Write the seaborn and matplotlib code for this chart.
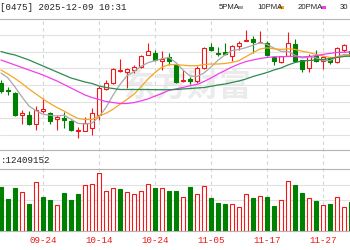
import numpy as np
import pandas as pd
import matplotlib
matplotlib.use("Agg")
import matplotlib.pyplot as plt
from matplotlib.transforms import blended_transform_factory
from matplotlib.patches import Rectangle
import seaborn as sns

# ---------------- data (price in chart units, volume in millions) ----------------
open_ = [52, 45, 42, 19.7, 20.3, 11, 24.3, 22, 15.7, 17,
         13.7, 4, 4.3, 7, 20.3, 46, 52, 64.3, 63, 65.3,
         67.7, 80.3, 82, 73.7, 77.7, 69.7, 54, 56, 53.7, 67,
         87.7, 82, 82.7, 78.7, 88.7, 94, 96.3, 92.7, 92, 77.7,
         73, 79.5, 91, 75, 67.2, 78.8, 74.5, 77, 73.5, 85, 84]
high = [55, 47.7, 43, 25.3, 23.7, 28.7, 37, 22.7, 20.3, 23,
        15, 8, 17.7, 27, 48.7, 55.3, 67, 76.3, 67, 70.3,
        79.7, 92, 85.3, 83.7, 82, 70.3, 65.3, 58, 68.7, 87.7,
        92, 87.7, 92, 90.3, 93.7, 105.3, 98.7, 104.3, 93.7, 78.7,
        79.5, 103, 96.3, 75.5, 81, 85, 79.5, 78.5, 87.7, 91.5, 86]
low = [42, 39.7, 18.7, 11, 9.7, 5.3, 22, 11, 5.3, 7,
       4.5, -3, 3.7, 0.3, 15.3, 45.3, 51, 63, 47, 62,
       67, 79.7, 74.3, 65.3, 70.3, 52, 53, 51.3, 52, 66.3,
       83.7, 78.7, 80.3, 74.3, 85.3, 93.7, 82, 92, 78.7, 70.3,
       72, 78.7, 73.3, 63.5, 62.7, 73.5, 66, 71.5, 72.5, 83.5, 78]
close = [43.7, 43.7, 19.7, 21.7, 11, 25.3, 26.3, 14.3, 18.3, 15,
         5.3, 5, 12, 22, 47, 52, 66, 65.3, 66, 67.7,
         78.7, 83.7, 75.3, 76, 73.7, 53, 54.3, 53.7, 67, 87,
         85, 81, 81, 88.7, 92, 94.3, 93, 93, 80.3, 73.7,
         78.7, 92, 74, 66.5, 79.3, 74.3, 77.7, 73.5, 86.8, 90, 79]
volume = [8.86, 6.34, 8.66, 7.74, 5.34, 9.74, 6.86, 6.2, 5.2, 7.54,
          6.2, 7.34, 9.2, 9.46, 11.54, 8.06, 8.66, 8.34, 7.74, 7.34,
          8.0, 9.4, 8.54, 8.54, 8.0, 8.0, 6.86, 8.74, 7.46, 9.06,
          6.54, 5.66, 5.46, 5.4, 4.74, 7.34, 6.54, 7.06, 6.86, 5.06,
          6.14, 9.94, 9.14, 7.66, 6.54, 6.0, 5.26, 5.46, 6.86, 4.86, 5.86]
vol_up = "GGGRGRGGRGGGRRRRRGRRRRGRGGRGRRGGGRRRGRGGRRGGRGRGRRG"
ma5 = [62, 57, 48, 38, 29, 24.3, 20.8, 19.7, 19, 19.8,
       15.8, 11.6, 11.1, 11.9, 18.3, 27.6, 39.8, 50.5, 59.3, 63.4,
       68.7, 72.3, 74.3, 76.3, 77.5, 72.3, 65, 59, 58.5, 62,
       68, 74.7, 80.2, 84.5, 85.5, 87.4, 89.8, 92.2, 90.5, 86.9,
       83.7, 83.5, 79.7, 77, 78.1, 77.2, 74.4, 74.3, 78.3, 80.5, 80]
ma10 = [65, 61, 56.5, 51.5, 46, 41, 36, 31.5, 27.5, 24,
        20, 16.5, 15.5, 15.5, 19, 21.7, 25.7, 30.8, 35.6, 40.8,
        48.2, 56, 62.4, 67.8, 70.4, 70.5, 69.8, 69.2, 69.3, 70.5,
        71, 71, 71.5, 72.6, 74.3, 78.4, 82.3, 86, 87.2, 86.2,
        85.6, 86.2, 85.6, 83.8, 82.5, 80.5, 79, 77.5, 77.7, 79.3, 80]
ma20 = [75, 72.5, 70, 67.5, 65, 62.5, 60, 57, 54, 50.5,
        47, 43.5, 40, 37.5, 35.5, 33.5, 32.5, 31.5, 31.5, 32.4,
        34.1, 36.1, 38.9, 41.6, 44.7, 46.1, 47.5, 49.3, 50.5, 53.5,
        57, 61, 64.5, 68, 71, 73.5, 75, 76.5, 77.5, 78.2,
        78.2, 78.6, 78.6, 78.1, 78.4, 79.4, 80.6, 81.6, 82.6, 82.7, 83]
ma30 = [83.5, 81.5, 80, 77.5, 75, 72, 69, 66, 63, 60,
        57, 55, 53, 51.5, 49, 47.5, 46.5, 45.5, 45.5, 45.5,
        45.5, 45.5, 45.3, 45.3, 45.3, 45.5, 46, 46.5, 47, 47.5,
        48.7, 50, 51, 52.5, 54, 56, 58.5, 60.5, 62.5, 65,
        67, 70, 72.5, 74, 74.5, 75, 75.5, 76.5, 77.5, 78.5, 79]
date_pos = [6, 14, 22, 30, 38, 46]
date_labels = ["09-24", "10-14", "10-24", "11-05", "11-17", "11-27"]
title_text = "[0475] 2025-12-09 10:31"
vol_text = ":12409152"
ma_names = ["5PMA", "10PMA", "20PMA", "30"]
watermark = "东方财富"

# ---------------- styling ----------------
sns.set_theme(style="white")
plt.rcParams["font.family"] = ["Liberation Mono", "DejaVu Sans"]

RED = "#f01818"
GREEN = "#008000"
MA_COLORS = ["#a8a8a8", "#f6a623", "#f23cf2", "#2e8a50"]
GRID = "#e2e2e2"
BORDER = "#b4b4b4"

W, H = 350, 250
fig = plt.figure(figsize=(W / 100, H / 100), dpi=100)
fig.patch.set_facecolor("white")

def fy(px):
    return 1 - px / H

xlim = (-1 / 7, (W - 1) / 7)

# background axes for dashed vertical lines and watermark
ax_bg = fig.add_axes([0, fy(231), 1, (231 - 19) / H])
ax_bg.set_xlim(*xlim)
ax_bg.set_ylim(0, 1)
ax_bg.axis("off")
ax_bg.vlines(date_pos, 0, 1, colors="#d4d4d4", linestyles=(0, (3, 3)), lw=0.8)
ax_bg.text(187 / W, fy(88), watermark, transform=fig.transFigure,
           family=["Noto Sans CJK SC"], fontsize=23, fontweight="bold",
           color="#ebebeb", ha="center", va="center")

# price axes
ax = fig.add_axes([0, fy(150), 1, (150 - 19) / H])
ax.set_facecolor("none")
ax.set_xlim(*xlim)
ax.set_ylim(-15, 116)
ax.set_yticks([0, 100 / 6, 200 / 6, 50, 400 / 6, 500 / 6, 100])
ax.set_xticks([])
ax.grid(axis="y", color=GRID, lw=0.8)
ax.tick_params(left=False, labelleft=False, bottom=False, labelbottom=False)
for s in ["left", "right"]:
    ax.spines[s].set_visible(False)
for s in ["top", "bottom"]:
    ax.spines[s].set_color(BORDER)
    ax.spines[s].set_linewidth(0.8)

o = np.array(open_); c = np.array(close); hi = np.array(high); lo = np.array(low)
idx = np.arange(len(c))
up = c >= o
top = np.maximum(o, c); bot = np.minimum(o, c)
cols = np.where(up, RED, GREEN)
ax.vlines(idx, top, hi, colors=cols, lw=0.8, zorder=3)
ax.vlines(idx, lo, bot, colors=cols, lw=0.8, zorder=3)
heights = np.maximum(top - bot, 0.6)
ax.bar(idx, heights, bottom=bot, width=0.68,
       color=np.where(up, "white", GREEN), edgecolor=cols, linewidth=0.8, zorder=4)

ma_df = pd.DataFrame({"idx": idx, "MA5": ma5, "MA10": ma10, "MA20": ma20, "MA30": ma30})
long = ma_df.melt(id_vars="idx", var_name="ma", value_name="value")
sns.lineplot(data=long, x="idx", y="value", hue="ma", palette=MA_COLORS,
             hue_order=["MA5", "MA10", "MA20", "MA30"], ax=ax, legend=False,
             linewidth=0.9, zorder=5)
ax.set_xlabel(""); ax.set_ylabel("")
ax.set_xlim(*xlim)

# volume axes
axv = fig.add_axes([0, fy(231), 1, (231 - 169) / H])
axv.set_facecolor("none")
axv.set_xlim(*xlim)
axv.set_ylim(0, 12.4)
axv.set_yticks([3.1, 6.2, 9.3])
axv.set_xticks([])
axv.grid(axis="y", color=GRID, lw=0.8)
axv.tick_params(left=False, labelleft=False, bottom=False, labelbottom=False)
for s in ["left", "right"]:
    axv.spines[s].set_visible(False)
for s in ["top", "bottom"]:
    axv.spines[s].set_color(BORDER)
    axv.spines[s].set_linewidth(0.8)
vup = np.array([ch == "R" for ch in vol_up])
axv.bar(idx, volume, width=0.64, color=np.where(vup, "white", GREEN),
        edgecolor=np.where(vup, RED, GREEN), linewidth=0.8, zorder=3)

# date labels
tr = blended_transform_factory(axv.transData, fig.transFigure)
for p, lab in zip(date_pos, date_labels):
    axv.text(p, fy(240.5), lab, transform=tr, ha="center", va="center",
             fontsize=6.6, color=RED, clip_on=False)

# header texts
fig.text(0.5 / W, fy(7.5), title_text, fontsize=6.6, color="#222222", ha="left", va="center")
fig.text(0.5 / W, fy(160.5), vol_text, fontsize=6.6, color="#222222", ha="left", va="center")
name_x = [219, 257, 298, 340]
mark_x = [238, 279, 321]
for nx, nm in zip(name_x, ma_names):
    fig.text(nx / W, fy(7.5), nm, fontsize=5.6, color="#222222", ha="left", va="center",
             family=["Liberation Sans"])
for mx, mc in zip(mark_x, MA_COLORS[:3]):
    fig.patches.append(Rectangle((mx / W, fy(8.5)), 5 / W, 2.2 / H, transform=fig.transFigure,
                                 facecolor=mc, edgecolor="none"))

fig.savefig("out.png", dpi=100)
